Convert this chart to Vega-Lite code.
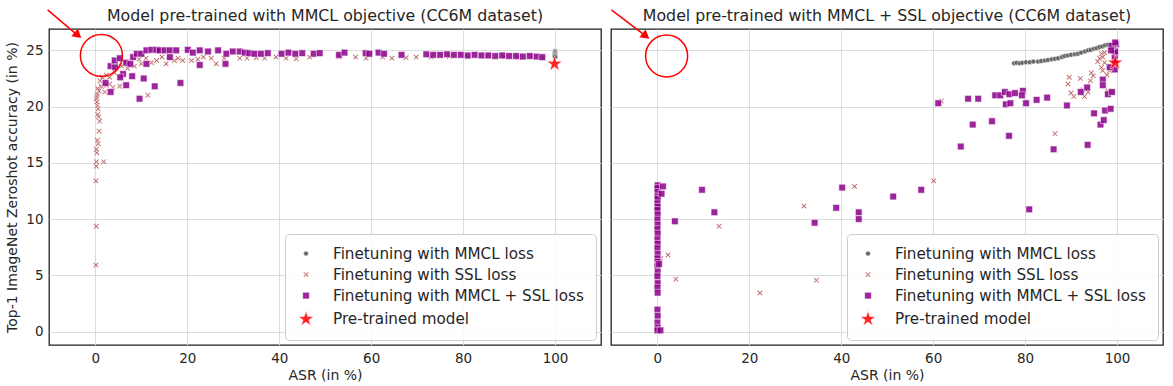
{
  "$schema": "https://vega.github.io/schema/vega-lite/v6.json",
  "padding": {"left": 5, "top": 7, "right": 2, "bottom": 2},
  "config": {
    "font": "DejaVu Sans",
    "view": {"stroke": "#1f1f1f", "strokeWidth": 1.3},
    "axis": {"gridColor": "#dcdcdc", "gridWidth": 1, "domain": false, "ticks": false, "labelFontSize": 13.5, "labelColor": "#262626", "titleFontSize": 14, "titleFontWeight": "normal", "titleColor": "#262626", "labelPadding": 6, "labelFont": "DejaVu Sans", "titleFont": "DejaVu Sans", "titlePadding": 4},
    "legend": {"orient": "bottom-right", "offset": 5, "padding": 12, "fillColor": "rgba(255,255,255,0.85)", "strokeColor": "#cccccc", "cornerRadius": 4, "labelFontSize": 15.2, "labelLimit": 500, "labelColor": "#262626", "labelFont": "DejaVu Sans", "rowPadding": 5, "labelOffset": 18, "symbolStrokeWidth": 0.6}
  },
  "datasets": {
    "pts": [
      {"p":"L","s":"a","asr":100,"acc":24.95},{"p":"L","s":"a","asr":100,"acc":24.85},{"p":"L","s":"a","asr":100,"acc":24.75},{"p":"L","s":"a","asr":100,"acc":24.65},{"p":"L","s":"a","asr":100,"acc":24.55},{"p":"L","s":"a","asr":100.1,"acc":24.45},{"p":"L","s":"a","asr":99.9,"acc":24.5},{"p":"L","s":"a","asr":100,"acc":24.4},
      {"p":"L","s":"b","asr":0.1,"acc":5.9},{"p":"L","s":"b","asr":0.2,"acc":9.35},{"p":"L","s":"b","asr":0.1,"acc":13.4},{"p":"L","s":"b","asr":0.2,"acc":14.7},{"p":"L","s":"b","asr":0.2,"acc":15.1},{"p":"L","s":"b","asr":1.8,"acc":15.1},{"p":"L","s":"b","asr":0.3,"acc":15.9},{"p":"L","s":"b","asr":0.2,"acc":16.2},{"p":"L","s":"b","asr":0.6,"acc":16.7},{"p":"L","s":"b","asr":0.4,"acc":17.0},{"p":"L","s":"b","asr":0.8,"acc":17.8},{"p":"L","s":"b","asr":0.9,"acc":18.7},{"p":"L","s":"b","asr":0.7,"acc":19.1},{"p":"L","s":"b","asr":0.5,"acc":19.3},{"p":"L","s":"b","asr":0.6,"acc":19.8},{"p":"L","s":"b","asr":0.4,"acc":20.1},{"p":"L","s":"b","asr":0.3,"acc":20.4},{"p":"L","s":"b","asr":0.2,"acc":20.7},{"p":"L","s":"b","asr":0.3,"acc":20.9},{"p":"L","s":"b","asr":0.4,"acc":21.1},{"p":"L","s":"b","asr":0.8,"acc":21.4},{"p":"L","s":"b","asr":0.5,"acc":21.6},{"p":"L","s":"b","asr":2.0,"acc":21.3},{"p":"L","s":"b","asr":1.3,"acc":21.8},{"p":"L","s":"b","asr":1.0,"acc":22.3},{"p":"L","s":"b","asr":1.5,"acc":22.6},{"p":"L","s":"b","asr":2.4,"acc":21.9},{"p":"L","s":"b","asr":3.1,"acc":22.0},{"p":"L","s":"b","asr":3.8,"acc":21.7},{"p":"L","s":"b","asr":5.3,"acc":21.8},{"p":"L","s":"b","asr":2.4,"acc":22.8},{"p":"L","s":"b","asr":3.1,"acc":22.6},{"p":"L","s":"b","asr":4.2,"acc":23.0},{"p":"L","s":"b","asr":5.7,"acc":23.6},{"p":"L","s":"b","asr":7.0,"acc":23.4},{"p":"L","s":"b","asr":6.5,"acc":24.0},{"p":"L","s":"b","asr":8.5,"acc":23.6},{"p":"L","s":"b","asr":9.5,"acc":24.2},{"p":"L","s":"b","asr":10,"acc":23.8},{"p":"L","s":"b","asr":11,"acc":24.3},{"p":"L","s":"b","asr":11.4,"acc":21.0},{"p":"L","s":"b","asr":12.2,"acc":23.9},{"p":"L","s":"b","asr":13.3,"acc":24.1},{"p":"L","s":"b","asr":14.5,"acc":24.4},{"p":"L","s":"b","asr":15.4,"acc":23.8},{"p":"L","s":"b","asr":17.2,"acc":24.1},{"p":"L","s":"b","asr":18,"acc":24.3},{"p":"L","s":"b","asr":19.0,"acc":24.1},{"p":"L","s":"b","asr":20.9,"acc":24.1},{"p":"L","s":"b","asr":22.3,"acc":24.2},{"p":"L","s":"b","asr":23.5,"acc":24.4},{"p":"L","s":"b","asr":25.2,"acc":24.3},{"p":"L","s":"b","asr":26.3,"acc":23.8},{"p":"L","s":"b","asr":28,"acc":24.3},{"p":"L","s":"b","asr":31.4,"acc":24.3},{"p":"L","s":"b","asr":33,"acc":24.3},{"p":"L","s":"b","asr":35,"acc":24.35},{"p":"L","s":"b","asr":36.8,"acc":24.3},{"p":"L","s":"b","asr":39.3,"acc":24.4},{"p":"L","s":"b","asr":41.5,"acc":24.3},{"p":"L","s":"b","asr":43.7,"acc":24.25},{"p":"L","s":"b","asr":46.6,"acc":24.4},{"p":"L","s":"b","asr":53,"acc":24.4},{"p":"L","s":"b","asr":56.6,"acc":24.4},{"p":"L","s":"b","asr":58.9,"acc":24.3},{"p":"L","s":"b","asr":62.5,"acc":24.4},{"p":"L","s":"b","asr":64.5,"acc":24.3},{"p":"L","s":"b","asr":67.6,"acc":24.35},{"p":"L","s":"b","asr":69.8,"acc":24.4},{"p":"L","s":"b","asr":73,"acc":24.4},{"p":"L","s":"b","asr":77,"acc":24.45},{"p":"L","s":"b","asr":81,"acc":24.4},{"p":"L","s":"b","asr":85,"acc":24.45},{"p":"L","s":"b","asr":89,"acc":24.4},{"p":"L","s":"b","asr":92,"acc":24.35},{"p":"L","s":"b","asr":95,"acc":24.4},{"p":"L","s":"b","asr":97.5,"acc":24.3},
      {"p":"L","s":"c","asr":9.6,"acc":20.7},{"p":"L","s":"c","asr":12.9,"acc":21.8},{"p":"L","s":"c","asr":18.5,"acc":22.1},{"p":"L","s":"c","asr":10.5,"acc":22.5},{"p":"L","s":"c","asr":8.0,"acc":22.7},{"p":"L","s":"c","asr":6.7,"acc":21.9},{"p":"L","s":"c","asr":6.0,"acc":22.9},{"p":"L","s":"c","asr":5.4,"acc":22.6},{"p":"L","s":"c","asr":3.3,"acc":21.3},{"p":"L","s":"c","asr":2.2,"acc":22.1},{"p":"L","s":"c","asr":3.3,"acc":23.6},{"p":"L","s":"c","asr":4.3,"acc":23.5},{"p":"L","s":"c","asr":4.2,"acc":24.1},{"p":"L","s":"c","asr":5.3,"acc":24.3},{"p":"L","s":"c","asr":6.7,"acc":23.9},{"p":"L","s":"c","asr":7.6,"acc":23.8},{"p":"L","s":"c","asr":8.2,"acc":24.4},{"p":"L","s":"c","asr":9.0,"acc":24.7},{"p":"L","s":"c","asr":10.0,"acc":24.7},{"p":"L","s":"c","asr":11.1,"acc":25.0},{"p":"L","s":"c","asr":12.2,"acc":25.05},{"p":"L","s":"c","asr":13.3,"acc":25.05},{"p":"L","s":"c","asr":14.0,"acc":25.0},{"p":"L","s":"c","asr":15.1,"acc":25.0},{"p":"L","s":"c","asr":16.2,"acc":25.0},{"p":"L","s":"c","asr":16.2,"acc":24.4},{"p":"L","s":"c","asr":11.1,"acc":23.8},{"p":"L","s":"c","asr":17.6,"acc":25.0},{"p":"L","s":"c","asr":20.1,"acc":25.05},{"p":"L","s":"c","asr":21.2,"acc":24.8},{"p":"L","s":"c","asr":22.7,"acc":23.7},{"p":"L","s":"c","asr":22.7,"acc":25.0},{"p":"L","s":"c","asr":24.5,"acc":24.9},{"p":"L","s":"c","asr":26.7,"acc":25.0},{"p":"L","s":"c","asr":28.3,"acc":23.8},{"p":"L","s":"c","asr":28.5,"acc":24.7},{"p":"L","s":"c","asr":29.9,"acc":24.9},{"p":"L","s":"c","asr":31.4,"acc":24.9},{"p":"L","s":"c","asr":32.5,"acc":24.8},{"p":"L","s":"c","asr":33.5,"acc":24.75},{"p":"L","s":"c","asr":34.6,"acc":24.7},{"p":"L","s":"c","asr":36,"acc":24.7},{"p":"L","s":"c","asr":37.5,"acc":24.75},{"p":"L","s":"c","asr":40.5,"acc":24.7},{"p":"L","s":"c","asr":42,"acc":24.8},{"p":"L","s":"c","asr":43.5,"acc":24.7},{"p":"L","s":"c","asr":45,"acc":24.75},{"p":"L","s":"c","asr":47.5,"acc":24.7},{"p":"L","s":"c","asr":48.8,"acc":24.75},{"p":"L","s":"c","asr":53,"acc":24.6},{"p":"L","s":"c","asr":54.2,"acc":24.8},{"p":"L","s":"c","asr":58.8,"acc":24.75},{"p":"L","s":"c","asr":59.6,"acc":24.7},{"p":"L","s":"c","asr":61.6,"acc":24.8},{"p":"L","s":"c","asr":62.8,"acc":24.7},{"p":"L","s":"c","asr":66.6,"acc":24.6},{"p":"L","s":"c","asr":72,"acc":24.65},{"p":"L","s":"c","asr":73.5,"acc":24.6},{"p":"L","s":"c","asr":75,"acc":24.6},{"p":"L","s":"c","asr":76.5,"acc":24.65},{"p":"L","s":"c","asr":78,"acc":24.6},{"p":"L","s":"c","asr":79.5,"acc":24.6},{"p":"L","s":"c","asr":81,"acc":24.55},{"p":"L","s":"c","asr":82.5,"acc":24.6},{"p":"L","s":"c","asr":84,"acc":24.55},{"p":"L","s":"c","asr":85.5,"acc":24.55},{"p":"L","s":"c","asr":87,"acc":24.5},{"p":"L","s":"c","asr":88.5,"acc":24.55},{"p":"L","s":"c","asr":90,"acc":24.5},{"p":"L","s":"c","asr":91.5,"acc":24.5},{"p":"L","s":"c","asr":93,"acc":24.45},{"p":"L","s":"c","asr":94.5,"acc":24.5},{"p":"L","s":"c","asr":96,"acc":24.45},{"p":"L","s":"c","asr":97.2,"acc":24.4},
      {"p":"L","s":"d","asr":99.9,"acc":23.8},
      {"p":"R","s":"a","asr":77.6,"acc":23.85},{"p":"R","s":"a","asr":78.2,"acc":23.9},{"p":"R","s":"a","asr":78.8,"acc":23.85},{"p":"R","s":"a","asr":79.4,"acc":23.9},{"p":"R","s":"a","asr":80.2,"acc":23.95},{"p":"R","s":"a","asr":81,"acc":23.95},{"p":"R","s":"a","asr":81.8,"acc":24.0},{"p":"R","s":"a","asr":82.8,"acc":24.0},{"p":"R","s":"a","asr":83.5,"acc":24.05},{"p":"R","s":"a","asr":84.3,"acc":24.1},{"p":"R","s":"a","asr":85,"acc":24.15},{"p":"R","s":"a","asr":85.8,"acc":24.2},{"p":"R","s":"a","asr":86.5,"acc":24.25},{"p":"R","s":"a","asr":87.2,"acc":24.3},{"p":"R","s":"a","asr":88,"acc":24.4},{"p":"R","s":"a","asr":88.6,"acc":24.5},{"p":"R","s":"a","asr":89.3,"acc":24.55},{"p":"R","s":"a","asr":90,"acc":24.6},{"p":"R","s":"a","asr":90.8,"acc":24.65},{"p":"R","s":"a","asr":91.5,"acc":24.7},{"p":"R","s":"a","asr":92.2,"acc":24.8},{"p":"R","s":"a","asr":93,"acc":24.9},{"p":"R","s":"a","asr":93.7,"acc":25.0},{"p":"R","s":"a","asr":94.3,"acc":25.05},{"p":"R","s":"a","asr":95,"acc":25.15},{"p":"R","s":"a","asr":95.6,"acc":25.2},{"p":"R","s":"a","asr":96.2,"acc":25.3},{"p":"R","s":"a","asr":96.8,"acc":25.35},{"p":"R","s":"a","asr":97.4,"acc":25.45},{"p":"R","s":"a","asr":98,"acc":25.5},
      {"p":"R","s":"b","asr":42.9,"acc":12.9},{"p":"R","s":"b","asr":31.9,"acc":11.15},{"p":"R","s":"b","asr":13.4,"acc":9.35},{"p":"R","s":"b","asr":2.3,"acc":6.8},{"p":"R","s":"b","asr":4.0,"acc":4.65},{"p":"R","s":"b","asr":22.3,"acc":3.43},{"p":"R","s":"b","asr":34.6,"acc":4.56},{"p":"R","s":"b","asr":0.7,"acc":6.5},{"p":"R","s":"b","asr":0.2,"acc":4.4},{"p":"R","s":"b","asr":60.1,"acc":13.4},{"p":"R","s":"b","asr":86.5,"acc":17.6},{"p":"R","s":"b","asr":61.8,"acc":20.5},{"p":"R","s":"b","asr":89.6,"acc":22.6},{"p":"R","s":"b","asr":89.3,"acc":22.0},{"p":"R","s":"b","asr":92.0,"acc":22.5},{"p":"R","s":"b","asr":94.4,"acc":23.0},{"p":"R","s":"b","asr":94.8,"acc":22.75},{"p":"R","s":"b","asr":94.2,"acc":22.3},{"p":"R","s":"b","asr":90.0,"acc":21.2},{"p":"R","s":"b","asr":90.6,"acc":20.9},{"p":"R","s":"b","asr":92.9,"acc":20.9},{"p":"R","s":"b","asr":93.7,"acc":21.3},{"p":"R","s":"b","asr":92.6,"acc":21.5},{"p":"R","s":"b","asr":96.6,"acc":24.7},{"p":"R","s":"b","asr":96.9,"acc":24.4},{"p":"R","s":"b","asr":97.3,"acc":23.9},{"p":"R","s":"b","asr":96.6,"acc":23.5},{"p":"R","s":"b","asr":96.9,"acc":23.2},{"p":"R","s":"b","asr":98.4,"acc":23.2},{"p":"R","s":"b","asr":98.8,"acc":21.3},{"p":"R","s":"b","asr":98.0,"acc":21.4},{"p":"R","s":"b","asr":96.2,"acc":24.3},{"p":"R","s":"b","asr":97.3,"acc":24.8},{"p":"R","s":"b","asr":95.8,"acc":24.0},{"p":"R","s":"b","asr":97.8,"acc":22.8},
      {"p":"R","s":"c","asr":0.05,"acc":13.0},{"p":"R","s":"c","asr":0,"acc":12.75},{"p":"R","s":"c","asr":0.05,"acc":12.4},{"p":"R","s":"c","asr":0,"acc":12.0},{"p":"R","s":"c","asr":0.05,"acc":11.8},{"p":"R","s":"c","asr":0,"acc":11.4},{"p":"R","s":"c","asr":0.05,"acc":11.1},{"p":"R","s":"c","asr":0,"acc":10.8},{"p":"R","s":"c","asr":0.05,"acc":10.4},{"p":"R","s":"c","asr":0,"acc":9.95},{"p":"R","s":"c","asr":0.05,"acc":9.5},{"p":"R","s":"c","asr":0,"acc":9.1},{"p":"R","s":"c","asr":0.05,"acc":8.7},{"p":"R","s":"c","asr":0,"acc":8.2},{"p":"R","s":"c","asr":0.05,"acc":7.8},{"p":"R","s":"c","asr":0,"acc":7.4},{"p":"R","s":"c","asr":0.05,"acc":6.9},{"p":"R","s":"c","asr":0,"acc":6.5},{"p":"R","s":"c","asr":0.05,"acc":6.2},{"p":"R","s":"c","asr":0,"acc":5.8},{"p":"R","s":"c","asr":0.05,"acc":5.3},{"p":"R","s":"c","asr":0,"acc":4.9},{"p":"R","s":"c","asr":0.05,"acc":4.3},{"p":"R","s":"c","asr":0,"acc":3.9},{"p":"R","s":"c","asr":0.05,"acc":3.45},{"p":"R","s":"c","asr":0,"acc":1.95},{"p":"R","s":"c","asr":0.05,"acc":1.4},{"p":"R","s":"c","asr":0,"acc":0.8},{"p":"R","s":"c","asr":0.05,"acc":0.35},{"p":"R","s":"c","asr":0,"acc":0.1},
      {"p":"R","s":"c","asr":1.2,"acc":12.9},{"p":"R","s":"c","asr":0.9,"acc":12.25},{"p":"R","s":"c","asr":0.35,"acc":6.0},{"p":"R","s":"c","asr":0.65,"acc":0.1},{"p":"R","s":"c","asr":3.8,"acc":9.8},{"p":"R","s":"c","asr":9.7,"acc":12.6},{"p":"R","s":"c","asr":12.4,"acc":10.6},{"p":"R","s":"c","asr":34.2,"acc":9.67},{"p":"R","s":"c","asr":38.9,"acc":11.0},{"p":"R","s":"c","asr":40.2,"acc":12.8},{"p":"R","s":"c","asr":43.8,"acc":10.6},{"p":"R","s":"c","asr":43.8,"acc":10.0},{"p":"R","s":"c","asr":51.3,"acc":12.0},{"p":"R","s":"c","asr":57.4,"acc":12.6},{"p":"R","s":"c","asr":66.0,"acc":16.45},{"p":"R","s":"c","asr":76.5,"acc":17.4},{"p":"R","s":"c","asr":86.2,"acc":16.2},{"p":"R","s":"c","asr":93.6,"acc":16.6},{"p":"R","s":"c","asr":80.9,"acc":10.86},{"p":"R","s":"c","asr":61.1,"acc":20.3},{"p":"R","s":"c","asr":67.6,"acc":20.7},{"p":"R","s":"c","asr":69.8,"acc":20.7},{"p":"R","s":"c","asr":73.5,"acc":21.0},{"p":"R","s":"c","asr":74.6,"acc":21.0},{"p":"R","s":"c","asr":75.6,"acc":21.3},{"p":"R","s":"c","asr":76.6,"acc":21.1},{"p":"R","s":"c","asr":77.8,"acc":21.2},{"p":"R","s":"c","asr":79.5,"acc":21.4},{"p":"R","s":"c","asr":79.3,"acc":21.0},{"p":"R","s":"c","asr":75.8,"acc":20.2},{"p":"R","s":"c","asr":76.8,"acc":20.3},{"p":"R","s":"c","asr":80.2,"acc":20.3},{"p":"R","s":"c","asr":82.5,"acc":20.6},{"p":"R","s":"c","asr":84.8,"acc":20.8},{"p":"R","s":"c","asr":89.1,"acc":20.1},{"p":"R","s":"c","asr":92.1,"acc":21.3},{"p":"R","s":"c","asr":68.6,"acc":18.4},{"p":"R","s":"c","asr":72.8,"acc":18.7},{"p":"R","s":"c","asr":95.0,"acc":19.4},{"p":"R","s":"c","asr":97.4,"acc":19.65},{"p":"R","s":"c","asr":98.6,"acc":19.8},{"p":"R","s":"c","asr":96.4,"acc":18.4},{"p":"R","s":"c","asr":97.1,"acc":18.8},{"p":"R","s":"c","asr":96.9,"acc":22.4},{"p":"R","s":"c","asr":96.9,"acc":21.9},{"p":"R","s":"c","asr":98.0,"acc":21.1},{"p":"R","s":"c","asr":98.9,"acc":21.3},{"p":"R","s":"c","asr":93.5,"acc":21.7},{"p":"R","s":"c","asr":99.5,"acc":23.3},{"p":"R","s":"c","asr":98.4,"acc":23.5},{"p":"R","s":"c","asr":99.5,"acc":24.1},{"p":"R","s":"c","asr":99.5,"acc":24.5},{"p":"R","s":"c","asr":99.3,"acc":25.0},{"p":"R","s":"c","asr":99.6,"acc":24.9},{"p":"R","s":"c","asr":99.8,"acc":25.55},{"p":"R","s":"c","asr":99.1,"acc":25.4},{"p":"R","s":"c","asr":98.8,"acc":25.4},{"p":"R","s":"c","asr":99.6,"acc":25.7},{"p":"R","s":"c","asr":98.7,"acc":25.0},
      {"p":"R","s":"d","asr":99.6,"acc":23.9}
    ]
  },
  "hconcat": [
    {
      "width": 552, "height": 316,
      "title": {"text": "Model pre-trained with MMCL objective (CC6M dataset)", "fontSize": 15.8, "fontWeight": "normal", "color": "#262626", "font": "DejaVu Sans", "offset": -16},
      "layer": [
        {
          "data": {"name": "pts"},
          "transform": [{"filter": "datum.p == 'L'"}],
          "mark": {"type": "point", "filled": true, "opacity": 0.85, "stroke": "white", "strokeWidth": 0.6},
          "encoding": {
            "x": {"field": "asr", "type": "quantitative", "scale": {"domain": [-10.1, 110], "nice": false, "zero": false}, "axis": {"values": [0,20,40,60,80,100], "title": "ASR (in %)"}},
            "y": {"field": "acc", "type": "quantitative", "scale": {"domain": [-1.2, 26.9], "nice": false, "zero": false}, "axis": {"values": [0,5,10,15,20,25], "title": "Top-1 ImageNet Zeroshot accuracy (in %)", "titlePadding": 6}},
            "color": {"field": "s", "type": "nominal", "scale": {"domain": ["a","b","c","d"], "range": ["#505050","#a52a2a","#8b008b","#ff0000"]}, "legend": {"title": null, "labelExpr": "datum.value == 'a' ? 'Finetuning with MMCL loss' : datum.value == 'b' ? 'Finetuning with SSL loss' : datum.value == 'c' ? 'Finetuning with MMCL + SSL loss' : 'Pre-trained model'"}},
            "shape": {"field": "s", "type": "nominal", "scale": {"domain": ["a","b","c","d"], "range": ["circle", "M-1,-0.7L-0.7,-1L0,-0.3L0.7,-1L1,-0.7L0.3,0L1,0.7L0.7,1L0,0.3L-0.7,1L-1,0.7L-0.3,0Z", "square", "M0,-1L0.223,-0.307L0.951,-0.309L0.361,0.117L0.588,0.809L0,0.38L-0.588,0.809L-0.361,0.117L-0.951,-0.309L-0.223,-0.307Z"]}, "legend": {"title": null, "labelExpr": "datum.value == 'a' ? 'Finetuning with MMCL loss' : datum.value == 'b' ? 'Finetuning with SSL loss' : datum.value == 'c' ? 'Finetuning with MMCL + SSL loss' : 'Pre-trained model'"}},
            "size": {"field": "s", "type": "nominal", "scale": {"type": "ordinal", "domain": ["a","b","c","d"], "range": [25, 30, 45, 270]}, "legend": {"title": null, "labelExpr": "datum.value == 'a' ? 'Finetuning with MMCL loss' : datum.value == 'b' ? 'Finetuning with SSL loss' : datum.value == 'c' ? 'Finetuning with MMCL + SSL loss' : 'Pre-trained model'"}}
          }
        },
        {
          "data": {"values": [{"asr": 1.3, "acc": 24.55}]},
          "mark": {"type": "point", "shape": "circle", "filled": false, "stroke": "#ff0000", "strokeWidth": 1.5, "size": 1765, "opacity": 1},
          "encoding": {"x": {"field": "asr", "type": "quantitative"}, "y": {"field": "acc", "type": "quantitative"}}
        },
        {
          "data": {"values": [{"asr": -10.4, "acc": 28.6, "asr2": -3.6, "acc2": 26.25}]},
          "mark": {"type": "rule", "stroke": "#ff0000", "strokeWidth": 1.5},
          "encoding": {"x": {"field": "asr", "type": "quantitative"}, "y": {"field": "acc", "type": "quantitative"}, "x2": {"field": "asr2"}, "y2": {"field": "acc2"}}
        },
        {
          "data": {"values": [{"asr": -3.8, "acc": 26.35}]},
          "mark": {"type": "point", "shape": "triangle-right", "filled": true, "color": "#ff0000", "opacity": 1, "size": 100, "angle": 40.5},
          "encoding": {"x": {"field": "asr", "type": "quantitative"}, "y": {"field": "acc", "type": "quantitative"}}
        }
      ]
    },
    {
      "width": 552, "height": 316,
      "title": {"text": "Model pre-trained with MMCL + SSL objective (CC6M dataset)", "fontSize": 15.8, "fontWeight": "normal", "color": "#262626", "font": "DejaVu Sans", "offset": -16},
      "layer": [
        {
          "data": {"name": "pts"},
          "transform": [{"filter": "datum.p == 'R'"}],
          "mark": {"type": "point", "filled": true, "opacity": 0.85, "stroke": "white", "strokeWidth": 0.6},
          "encoding": {
            "x": {"field": "asr", "type": "quantitative", "scale": {"domain": [-10.1, 110], "nice": false, "zero": false}, "axis": {"values": [0,20,40,60,80,100], "title": "ASR (in %)"}},
            "y": {"field": "acc", "type": "quantitative", "scale": {"domain": [-1.2, 26.9], "nice": false, "zero": false}, "axis": {"values": [0,5,10,15,20,25], "labels": false, "title": null, "labelPadding": 0}},
            "color": {"field": "s", "type": "nominal", "scale": {"domain": ["a","b","c","d"], "range": ["#505050","#a52a2a","#8b008b","#ff0000"]}, "legend": {"title": null, "labelExpr": "datum.value == 'a' ? 'Finetuning with MMCL loss' : datum.value == 'b' ? 'Finetuning with SSL loss' : datum.value == 'c' ? 'Finetuning with MMCL + SSL loss' : 'Pre-trained model'"}},
            "shape": {"field": "s", "type": "nominal", "scale": {"domain": ["a","b","c","d"], "range": ["circle", "M-1,-0.7L-0.7,-1L0,-0.3L0.7,-1L1,-0.7L0.3,0L1,0.7L0.7,1L0,0.3L-0.7,1L-1,0.7L-0.3,0Z", "square", "M0,-1L0.223,-0.307L0.951,-0.309L0.361,0.117L0.588,0.809L0,0.38L-0.588,0.809L-0.361,0.117L-0.951,-0.309L-0.223,-0.307Z"]}, "legend": {"title": null, "labelExpr": "datum.value == 'a' ? 'Finetuning with MMCL loss' : datum.value == 'b' ? 'Finetuning with SSL loss' : datum.value == 'c' ? 'Finetuning with MMCL + SSL loss' : 'Pre-trained model'"}},
            "size": {"field": "s", "type": "nominal", "scale": {"type": "ordinal", "domain": ["a","b","c","d"], "range": [25, 30, 45, 270]}, "legend": {"title": null, "labelExpr": "datum.value == 'a' ? 'Finetuning with MMCL loss' : datum.value == 'b' ? 'Finetuning with SSL loss' : datum.value == 'c' ? 'Finetuning with MMCL + SSL loss' : 'Pre-trained model'"}}
          }
        },
        {
          "data": {"values": [{"asr": 2.0, "acc": 24.5}]},
          "mark": {"type": "point", "shape": "circle", "filled": false, "stroke": "#ff0000", "strokeWidth": 1.5, "size": 1765, "opacity": 1},
          "encoding": {"x": {"field": "asr", "type": "quantitative"}, "y": {"field": "acc", "type": "quantitative"}}
        },
        {
          "data": {"values": [{"asr": -10.0, "acc": 28.6, "asr2": -2.3, "acc2": 26.2}]},
          "mark": {"type": "rule", "stroke": "#ff0000", "strokeWidth": 1.5},
          "encoding": {"x": {"field": "asr", "type": "quantitative"}, "y": {"field": "acc", "type": "quantitative"}, "x2": {"field": "asr2"}, "y2": {"field": "acc2"}}
        },
        {
          "data": {"values": [{"asr": -2.5, "acc": 26.27}]},
          "mark": {"type": "point", "shape": "triangle-right", "filled": true, "color": "#ff0000", "opacity": 1, "size": 100, "angle": 38},
          "encoding": {"x": {"field": "asr", "type": "quantitative"}, "y": {"field": "acc", "type": "quantitative"}}
        }
      ]
    }
  ],
  "spacing": 8,
  "resolve": {"legend": {"color": "independent", "shape": "independent", "size": "independent"}, "scale": {"color": "independent", "shape": "independent", "size": "independent"}}
}
